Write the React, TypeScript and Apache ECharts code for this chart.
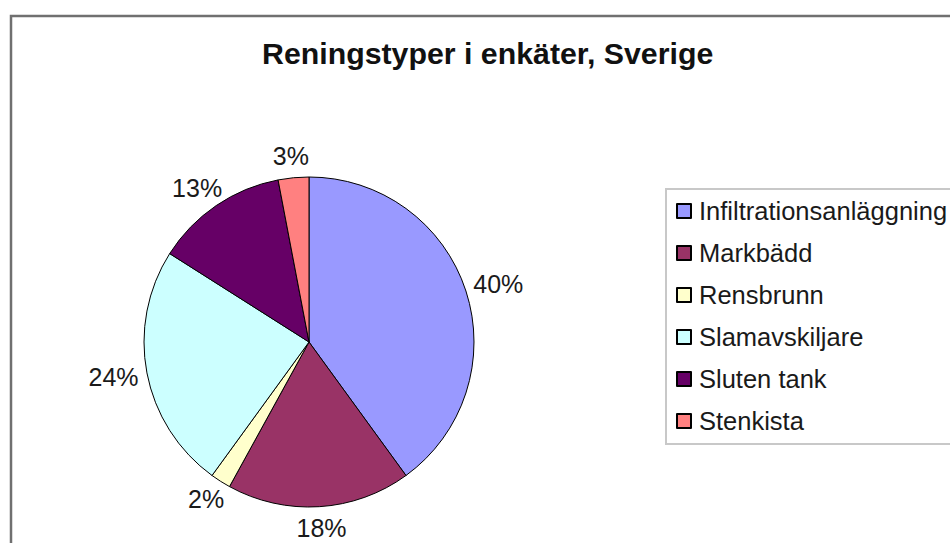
import React, { useEffect, useRef } from "react";
import * as echarts from "echarts";

const titleText = "Reningstyper i enkäter, Sverige";
const categories = ["Infiltrationsanläggning", "Markbädd", "Rensbrunn", "Slamavskiljare", "Sluten tank", "Stenkista"];
const values = [40, 18, 2, 24, 13, 3];
const colors = ["#9999FF", "#993366", "#FFFFCC", "#CCFFFF", "#660066", "#FF8080"];

const FONT = "'Liberation Sans', Arial, sans-serif";
const CX = 309;
const CY = 342;

export default function App() {
  const ref = useRef<HTMLDivElement>(null);
  useEffect(() => {
    document.body.style.margin = "0";
    const chart = echarts.init(ref.current!, undefined, { renderer: "svg" });
    const mainData = categories.map((name, i) => ({
      name,
      value: values[i],
      itemStyle: { color: colors[i] },
    }));
    const labelData = categories.map((name, i) => ({ name, value: values[i] }));
    chart.setOption({
      animation: false,
      backgroundColor: "#ffffff",
      title: {
        text: titleText,
        left: 262,
        top: 38,
        padding: 0,
        textStyle: { fontFamily: FONT, fontSize: 30.3, fontWeight: "bold", color: "#111" },
      },
      legend: {
        orient: "vertical",
        left: 666,
        top: 189,
        padding: [9, 30, 10, 10],
        itemWidth: 14,
        itemHeight: 14,
        itemGap: 16,
        icon: "rect",
        borderColor: "#c8c8c8",
        borderWidth: 2,
        data: categories,
        textStyle: { fontFamily: FONT, fontSize: 25.5, lineHeight: 26, color: "#1a1a1a", padding: [0, 0, 0, 3] },
      },
      graphic: [
        {
          type: "rect",
          silent: true,
          shape: { x: 11, y: 16, width: 1000, height: 600 },
          style: { fill: "none", stroke: "#707070", lineWidth: 2.5 },
        },
      ],
      series: [
        {
          type: "pie",
          name: "main",
          center: [CX, CY],
          radius: [0, 165],
          startAngle: 90,
          clockwise: true,
          data: mainData,
          label: { show: false },
          labelLine: { show: false },
          itemStyle: { borderColor: "#000", borderWidth: 1 },
          emphasis: { disabled: true },
        },
        {
          type: "pie",
          name: "labels",
          center: [CX, CY],
          radius: [166, 176],
          startAngle: 90,
          clockwise: true,
          silent: true,
          data: labelData,
          itemStyle: { color: "rgba(0,0,0,0)", borderWidth: 0 },
          label: {
            show: true,
            position: "inside",
            formatter: (p: any) => p.value + "%",
            fontFamily: FONT,
            fontSize: 25,
            lineHeight: 24,
            color: "#1a1a1a",
          },
          labelLine: { show: false },
          labelLayout: (params: any) => {
            const r = params.labelRect;
            const lx = r.x + r.width / 2 - CX;
            const ly = r.y + r.height / 2 - CY;
            const d = Math.sqrt(lx * lx + ly * ly) || 1;
            return { dx: (lx / d) * r.width / 2, dy: (ly / d) * r.height / 2 };
          },
          emphasis: { disabled: true },
        },
      ],
    });
    return () => chart.dispose();
  }, []);
  return <div ref={ref} style={{ width: 950, height: 543 }} />;
}
